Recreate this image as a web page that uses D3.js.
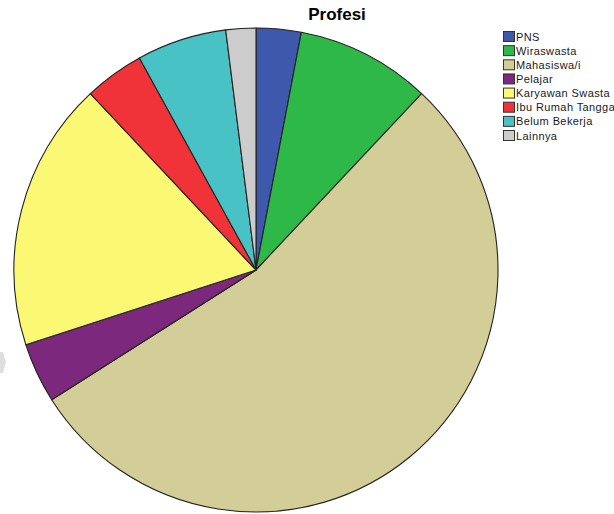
<!DOCTYPE html>
<html>
<head>
<meta charset="utf-8">
<script src="https://cdn.jsdelivr.net/npm/d3@7"></script>
<style>
  html, body { margin: 0; padding: 0; background: #ffffff; }
  svg { display: block; }
</style>
</head>
<body>
<svg id="chart" width="614" height="514"></svg>
<script>
// Occupation categories and respondent counts
const categories = ["PNS", "Wiraswasta", "Mahasiswa/i", "Pelajar", "Karyawan Swasta", "Ibu Rumah Tangga", "Belum Bekerja", "Lainnya"];
const counts = [3, 9, 54, 4, 18, 4, 6, 2];
const colors = ["#3e58ac", "#2eb848", "#d3ce97", "#7c287d", "#fbf873", "#ef3338", "#48c2c5", "#cccccc"];
const title = "Profesi";

const data = categories.map((c, i) => ({ name: c, value: counts[i] }));

const svg = d3.select("#chart");
const cx = 256, cy = 270, radius = 242;

// Faint mark at the left border
svg.append("path")
  .attr("d", "M0,352 L3,352 L6,362 L3,373 L0,373 Z")
  .attr("fill", "#dedede");

const color = d3.scaleOrdinal().domain(categories).range(colors);

const pie = d3.pie().value(d => d.value).sort(null);
const arc = d3.arc().innerRadius(0).outerRadius(radius);

const g = svg.append("g").attr("transform", `translate(${cx},${cy})`);
g.selectAll("path.slice")
  .data(pie(data))
  .join("path")
  .attr("class", "slice")
  .attr("d", arc)
  .attr("fill", d => color(d.data.name))
  .attr("stroke", "#222")
  .attr("stroke-width", 1.1)
  .attr("stroke-linejoin", "round");

// Title
svg.append("text")
  .attr("x", 337)
  .attr("y", 20)
  .attr("text-anchor", "middle")
  .attr("font-family", "'Liberation Sans', Arial, sans-serif")
  .attr("font-weight", "bold")
  .attr("font-size", 17)
  .attr("fill", "#000")
  .text(title);

// Legend
const legendY = d3.scalePoint().domain(categories).range([31, 130]);
const legend = svg.append("g");
const rows = legend.selectAll("g")
  .data(categories)
  .join("g")
  .attr("transform", d => `translate(503,${legendY(d)})`);
rows.append("rect")
  .attr("x", 0.5).attr("y", 0.5)
  .attr("width", 11).attr("height", 10)
  .attr("fill", d => color(d))
  .attr("stroke", "#333")
  .attr("stroke-width", 1);
rows.append("text")
  .attr("x", 13)
  .attr("y", 9.5)
  .attr("font-family", "'Liberation Sans', Arial, sans-serif")
  .attr("font-size", 11)
  .attr("letter-spacing", 0.4)
  .attr("fill", "#1a1a1a")
  .text(d => d);
</script>
</body>
</html>
